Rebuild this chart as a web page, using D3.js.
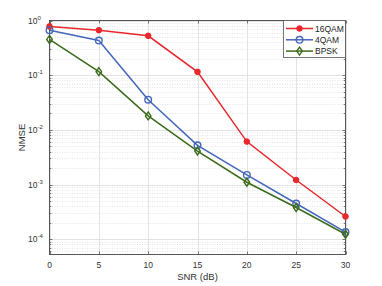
<!DOCTYPE html>
<html><head><meta charset="utf-8">
<script src="https://cdn.jsdelivr.net/npm/d3@7"></script>
<style>body{margin:0;background:#fff}svg{display:block;font-family:"Liberation Sans",Arial,sans-serif}</style>
</head><body><svg id="c" width="382" height="286"></svg>
<script>
const snr = [0, 5, 10, 15, 20, 25, 30];
const qam16 = [0.78, 0.665, 0.525, 0.115, 0.0061, 0.00121, 0.00026];
const qam4 = [0.665, 0.43, 0.0356, 0.0052, 0.0015, 0.00045, 0.000135];
const bpsk = [0.45, 0.116, 0.018, 0.0041, 0.0011, 0.00038, 0.000123];
const names = ["16QAM", "4QAM", "BPSK"];
const xTicks = [0, 5, 10, 15, 20, 25, 30];
const yExps = [0, -1, -2, -3, -4];

const series = [
  {name: names[0], vals: qam16, color: "#e8262b", marker: "dot"},
  {name: names[1], vals: qam4, color: "#4466bb", marker: "circle"},
  {name: names[2], vals: bpsk, color: "#3b6b1c", marker: "diamond"}
];

const L = 49.5, R = 345.5, T = 20.5, B = 254.5;
const svg = d3.select("#c");
const x = d3.scaleLinear().domain([0, 30]).range([L, R]);
const y = d3.scaleLog().domain([Math.pow(10, -4.28), 1]).range([B, T]);

// minor grid
const g = svg.append("g");
for (let e = -5; e < 0; e++) {
  for (let m = 2; m <= 9; m++) {
    const v = m * Math.pow(10, e);
    if (v < y.domain()[0]) continue;
    g.append("line").attr("x1", L).attr("x2", R).attr("y1", Math.round(y(v)) + 0.5).attr("y2", Math.round(y(v)) + 0.5)
      .attr("stroke", "#d4d4d4").attr("stroke-width", 0.6).attr("stroke-dasharray", "1,1.5");
  }
}
// major grid
xTicks.forEach(t => g.append("line").attr("x1", Math.round(x(t)) + 0.5).attr("x2", Math.round(x(t)) + 0.5).attr("y1", T).attr("y2", B)
  .attr("stroke", "#e3e3e3").attr("stroke-width", 1));
yExps.forEach(e => g.append("line").attr("x1", L).attr("x2", R).attr("y1", Math.round(y(Math.pow(10, e))) + 0.5).attr("y2", Math.round(y(Math.pow(10, e))) + 0.5)
  .attr("stroke", "#e3e3e3").attr("stroke-width", 1));

// ticks (inward, all sides)
const tk = svg.append("g").attr("stroke", "#444").attr("stroke-width", 0.7);
xTicks.forEach(t => {
  const px = Math.round(x(t)) + 0.5;
  tk.append("line").attr("x1", px).attr("x2", px).attr("y1", B).attr("y2", B - 3);
  tk.append("line").attr("x1", px).attr("x2", px).attr("y1", T).attr("y2", T + 3);
});
for (let e = -5; e <= 0; e++) {
  for (let m = 1; m <= 9; m++) {
    const v = m * Math.pow(10, e);
    if (v < y.domain()[0] || v > 1) continue;
    const py = Math.round(y(v)) + 0.5;
    const len = m === 1 ? 3 : 1.8;
    tk.append("line").attr("x1", L).attr("x2", L + len).attr("y1", py).attr("y2", py);
    tk.append("line").attr("x1", R).attr("x2", R - len).attr("y1", py).attr("y2", py);
  }
}

// box
svg.append("rect").attr("x", L).attr("y", T).attr("width", R - L).attr("height", B - T)
  .attr("fill", "none").attr("stroke", "#555").attr("stroke-width", 1);

// x tick labels
svg.selectAll(".xt").data(xTicks).enter().append("text")
  .attr("x", d => x(d)).attr("y", 268).attr("text-anchor", "middle")
  .attr("font-size", 8.5).attr("fill", "#333").text(d => d);

// y tick labels
yExps.forEach(e => {
  const t = svg.append("text").attr("x", 37.5).attr("y", y(Math.pow(10, e)) + 3).attr("text-anchor", "end")
    .attr("font-size", 8.5).attr("fill", "#333");
  t.append("tspan").text("10");
  svg.append("text").attr("x", 37.5).attr("y", y(Math.pow(10, e)) - 1).attr("font-size", 6).attr("fill", "#333").text(e);
});

// axis labels
svg.append("text").attr("x", (L + R) / 2).attr("y", 280).attr("text-anchor", "middle").attr("font-size", 9.5).attr("fill", "#333").text("SNR (dB)");
svg.append("text").attr("transform", `translate(25,${(T + B) / 2}) rotate(-90)`).attr("text-anchor", "middle").attr("font-size", 9.5).attr("fill", "#333").text("NMSE");

// series
const line = d3.line().x((d, i) => x(snr[i])).y(d => y(d));
function drawMarker(sel, s, cx, cy) {
  if (s.marker === "dot") {
    sel.append("circle").attr("cx", cx).attr("cy", cy).attr("r", 2.8).attr("fill", s.color).attr("stroke", s.color).attr("stroke-width", 1);
  } else if (s.marker === "circle") {
    sel.append("circle").attr("cx", cx).attr("cy", cy).attr("r", 3.3).attr("fill", "none").attr("stroke", s.color).attr("stroke-width", 1.4);
  } else {
    sel.append("path").attr("d", `M${cx},${cy - 4}L${cx + 2.8},${cy}L${cx},${cy + 4}L${cx - 2.8},${cy}Z`)
      .attr("fill", "none").attr("stroke", s.color).attr("stroke-width", 1.4);
  }
}
series.forEach(s => {
  svg.append("path").datum(s.vals).attr("d", line).attr("fill", "none").attr("stroke", s.color).attr("stroke-width", 1.5);
  const mg = svg.append("g");
  s.vals.forEach((v, i) => drawMarker(mg, s, x(snr[i]), y(v)));
});

// legend
const lg = svg.append("g");
lg.append("rect").attr("x", 283.5).attr("y", 20.5).attr("width", 62).attr("height", 37).attr("fill", "#fff").attr("stroke", "#555").attr("stroke-width", 0.8);
series.forEach((s, i) => {
  const ly = 28.5 + i * 11.3;
  lg.append("line").attr("x1", 286).attr("x2", 313).attr("y1", ly).attr("y2", ly).attr("stroke", s.color).attr("stroke-width", 1.5);
  drawMarker(lg, s, 299.5, ly);
  lg.append("text").attr("x", 315).attr("y", ly + 3).attr("font-size", 8.5).attr("fill", "#222").text(s.name);
});
</script></body></html>
